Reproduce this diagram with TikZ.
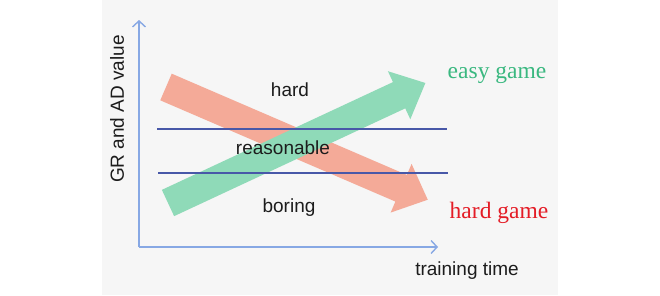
\documentclass[tikz,border=0pt]{standalone}
\usepackage{fontspec}
\setmainfont{Liberation Sans}
\newfontfamily\gameserif{Liberation Serif}
\usetikzlibrary{arrows.meta}
\definecolor{panelgray}{RGB}{246,246,246}
\definecolor{axisblue}{RGB}{135,168,228}
\definecolor{bandblue}{RGB}{72,88,168}
\definecolor{easygreen}{RGB}{143,218,184}
\definecolor{hardsalmon}{RGB}{244,170,152}
\definecolor{easytext}{RGB}{58,184,128}
\definecolor{hardtext}{RGB}{228,28,38}
\definecolor{labeltext}{RGB}{28,28,28}
\tikzset{
  axisline/.style={draw=axisblue, line width=1.4pt, -{Straight Barb[length=6pt,width=13pt,line width=1.4pt]}},
  bandline/.style={draw=bandblue, line width=2pt},
  zonelabel/.style={text=labeltext, font=\fontsize{19}{22}\selectfont, inner sep=0pt},
  gamelabel/.style={font=\gameserif\fontsize{23.5}{27}\selectfont, inner sep=0pt},
  % wide block arrow: shaft width, head width, head length
  blockarrow/.pic={
    \fill (0,-14.5) -- (#1-29,-14.5) -- (#1-29,-26.5) -- (#1,0) -- (#1-29,26.5)
      -- (#1-29,14.5) -- (0,14.5) -- cycle;
  }
}
\begin{document}
\begin{tikzpicture}[x=1pt,y=-1pt]
  \useasboundingbox (0,0) rectangle (660,295);
  \fill[white] (0,0) rectangle (660,295);
  \fill[panelgray] (102,0) rectangle (558,295);

  % axes
  \coordinate (origin) at (139,247);
  \coordinate (ytop) at (139,20);
  \coordinate (xend) at (438,247);
  \draw[axisline] (origin) -- (ytop);
  \draw[axisline] (origin) -- (xend);
  \node[zonelabel, rotate=90] (ylab) at (117,109) {GR and AD value};
  \node[zonelabel] (xlab) at (467,271) {training time};

  % trend arrows
  \pic[fill=hardsalmon, rotate=-23.3] (hardarrow) at (166,87) {blockarrow=285};
  \pic[fill=easygreen, rotate=25.0] (easyarrow) at (168,203) {blockarrow=284};

  % thresholds
  \coordinate (upA) at (157,129);
  \coordinate (upB) at (447,129);
  \coordinate (loA) at (158,173);
  \coordinate (loB) at (448,173);
  \draw[bandline] (upA) -- (upB);
  \draw[bandline] (loA) -- (loB);

  % zone labels
  \node[zonelabel] (hard) at (290,90) {hard};
  \node[zonelabel] (reasonable) at (283,148) {reasonable};
  \node[zonelabel] (boring) at (289,208) {boring};

  % outcome labels
  \node[gamelabel, text=easytext] (easy) at (497,75) {easy game};
  \node[gamelabel, text=hardtext] (hardgame) at (499,213) {hard game};
\end{tikzpicture}
\end{document}
